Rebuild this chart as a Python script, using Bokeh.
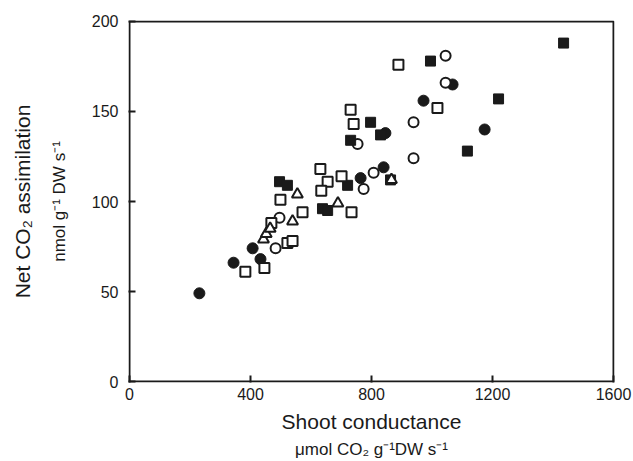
from bokeh.plotting import figure
from bokeh.models import Range1d, FixedTicker, LinearAxis
from bokeh.embed import file_html
from bokeh.resources import INLINE

# Shoot conductance (x) vs Net CO2 assimilation (y), five series by marker
fc_x = [231, 344, 407, 433, 764, 840, 846, 972, 1068, 1174]
fc_y = [49, 66, 74, 68, 113, 119, 138, 156, 165, 140]

oc_x = [483, 496, 754, 774, 807, 939, 939, 1045, 1045]
oc_y = [74, 91, 132, 107, 116, 144, 124, 181, 166]

fs_x = [496, 522, 638, 655, 721, 731, 797, 830, 863, 995, 1117, 1220, 1435]
fs_y = [111, 109, 96, 95, 109, 134, 144, 137, 112, 178, 128, 157, 188]

os_x = [383, 446, 522, 539, 469, 572, 499, 631, 655, 634, 701, 734, 731, 741, 889, 1018]
os_y = [61, 63, 77, 78, 88, 94, 101, 118, 111, 106, 114, 94, 151, 143, 176, 152]

ot_x = [443, 452, 465, 539, 555, 689, 866]
ot_y = [79, 82, 85, 89, 104, 99, 112]

x_ticks = [0, 400, 800, 1200, 1600]
y_ticks = [0, 50, 100, 150, 200]

FONT = "Liberation Sans"
INK = "#1a1a1a"

X0, X1 = x_ticks[0], x_ticks[-1]
Y0, Y1 = y_ticks[0], y_ticks[-1]

# tiny range padding so the plot box drawn at the axis limits stays inside the frame
p = figure(width=633, height=461, output_backend="svg", toolbar_location=None,
           x_range=Range1d(X0 - 3.3, X1 + 3.3), y_range=Range1d(Y0 - 0.55, Y1 + 0.55),
           min_border_left=128, min_border_right=19, min_border_top=20, min_border_bottom=79)

p.grid.visible = False
p.outline_line_color = None
p.background_fill_color = "white"
p.border_fill_color = "white"

# plot box at the axis limits
p.quad(left=[X0], right=[X1], bottom=[Y0], top=[Y1],
       fill_color=None, line_color=INK, line_width=2)

for ax in (p.xaxis[0], p.yaxis[0]):
    ax.axis_line_color = None
    ax.major_tick_in = 7
    ax.major_tick_out = 0
    ax.major_tick_line_width = 2
    ax.major_tick_line_color = INK
    ax.minor_tick_line_color = None
    ax.major_label_text_font = FONT
    ax.major_label_text_font_size = "16px"
    ax.major_label_text_color = INK
    ax.axis_label_text_font = FONT
    ax.axis_label_text_color = INK
    ax.axis_label_text_font_style = "normal"

p.xaxis[0].ticker = FixedTicker(ticks=x_ticks)
p.yaxis[0].ticker = FixedTicker(ticks=y_ticks)
p.xaxis[0].major_label_standoff = 5
p.yaxis[0].major_label_standoff = 10

# inner (closer) label lines
p.xaxis[0].axis_label = "Shoot conductance"
p.xaxis[0].axis_label_text_font_size = "21px"
p.xaxis[0].axis_label_standoff = 7
p.yaxis[0].axis_label = "nmol g⁻¹ DW s⁻¹"
p.yaxis[0].axis_label_text_font_size = "17px"
p.yaxis[0].axis_label_standoff = 20


def bare_axis(ticks, label, size, standoff):
    return LinearAxis(ticker=FixedTicker(ticks=ticks),
                      axis_line_color=None,
                      major_tick_line_color=None, minor_tick_line_color=None,
                      major_tick_in=0, major_tick_out=0,
                      major_label_text_font_size="0px", major_label_standoff=0,
                      major_label_text_alpha=0,
                      axis_label=label, axis_label_text_font=FONT,
                      axis_label_text_font_size=size, axis_label_text_color=INK,
                      axis_label_text_font_style="normal", axis_label_standoff=standoff)


p.add_layout(bare_axis(y_ticks, "Net CO₂ assimilation", "21px", 13), "left")
p.add_layout(bare_axis(x_ticks, "μmol CO₂ g⁻¹DW s⁻¹", "17px", 4), "below")

p.scatter(fc_x, fc_y, marker="circle", size=11, fill_color=INK, line_color=INK)
p.scatter(oc_x, oc_y, marker="circle", size=10, fill_color="white", line_color=INK, line_width=2)
p.scatter(fs_x, fs_y, marker="square", size=10, fill_color=INK, line_color=INK)
p.scatter(os_x, os_y, marker="square", size=10, fill_color="white", line_color=INK, line_width=2)
p.scatter(ot_x, ot_y, marker="triangle", size=11, fill_color="white", line_color=INK, line_width=2)

open("out.html", "w").write(file_html(p, INLINE))
